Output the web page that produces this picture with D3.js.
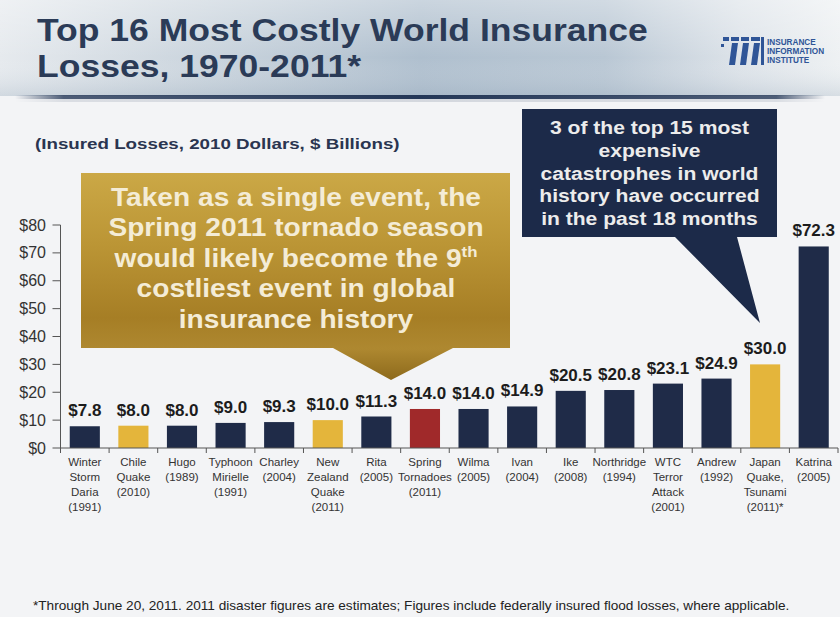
<!DOCTYPE html>
<html><head><meta charset="utf-8">
<script src="https://cdn.jsdelivr.net/npm/d3@7/dist/d3.min.js"></script>
<style>
body{margin:0;background:#f3f4f6;}
svg{display:block;font-family:"Liberation Sans",Arial,Helvetica,sans-serif;}
</style>
</head><body>
<svg id="c" width="840" height="617"></svg>
<script>
// ---------- data ----------
const categories = [
  ["Winter","Storm","Daria","(1991)"],
  ["Chile","Quake","(2010)"],
  ["Hugo","(1989)"],
  ["Typhoon","Mirielle","(1991)"],
  ["Charley","(2004)"],
  ["New","Zealand","Quake","(2011)"],
  ["Rita","(2005)"],
  ["Spring","Tornadoes","(2011)"],
  ["Wilma","(2005)"],
  ["Ivan","(2004)"],
  ["Ike","(2008)"],
  ["Northridge","(1994)"],
  ["WTC","Terror","Attack","(2001)"],
  ["Andrew","(1992)"],
  ["Japan","Quake,","Tsunami","(2011)*"],
  ["Katrina","(2005)"]
];
const values = [7.8, 8.0, 8.0, 9.0, 9.3, 10.0, 11.3, 14.0, 14.0, 14.9, 20.5, 20.8, 23.1, 24.9, 30.0, 72.3];
const kinds = ["past","recent","past","past","past","recent","past","tornado","past","past","past","past","past","past","recent","past"];
const yTicks = [0, 10, 20, 30, 40, 50, 60, 70, 80];
const titleLines = ["Top 16 Most Costly World Insurance", "Losses, 1970-2011*"];
const subtitle = "(Insured Losses, 2010 Dollars, $ Billions)";
const goldLines = ["Taken as a single event, the", "Spring 2011 tornado season", "would likely become the 9|th", "costliest event in global", "insurance history"];
const navyLines = ["3 of the top 15 most", "expensive", "catastrophes in world", "history have occurred", "in the past 18 months"];
const logoLines = ["INSURANCE", "INFORMATION", "INSTITUTE"];
const footnote = "*Through June 20, 2011. 2011 disaster figures are estimates; Figures include federally insured flood losses, where applicable.";

const colorOf = {past:"#1f2b48", recent:"#e4b53b", tornado:"#a0292a"};

// ---------- setup ----------
const svg = d3.select("#c");
const defs = svg.append("defs");

function stretch(sel, ax, target, node){
  const w = node.getComputedTextLength();
  const s = target / w;
  sel.attr("transform", `translate(${ax},0) scale(${s},1) translate(${-ax},0)`);
}

// page background
svg.append("rect").attr("width",840).attr("height",617).attr("fill","#f3f4f6");

// header gradient
const hg = defs.append("linearGradient").attr("id","hg").attr("x1","0").attr("x2","1").attr("y1","0").attr("y2","0");
[["0","#e6eaee"],["0.2","#cfd8e0"],["0.5","#afbfce"],["0.72","#b9c7d4"],["0.88","#dde3e9"],["1","#eef1f3"]]
  .forEach(([o,c])=>hg.append("stop").attr("offset",o).attr("stop-color",c));
svg.append("rect").attr("x",0).attr("y",0).attr("width",840).attr("height",96).attr("fill","url(#hg)");
const hv = defs.append("linearGradient").attr("id","hv").attr("x1","0").attr("x2","0").attr("y1","0").attr("y2","1");
hv.append("stop").attr("offset","0").attr("stop-color","#ffffff").attr("stop-opacity",0.35);
hv.append("stop").attr("offset","0.6").attr("stop-color","#ffffff").attr("stop-opacity",0);
hv.append("stop").attr("offset","1").attr("stop-color","#8fa2b5").attr("stop-opacity",0.25);
svg.append("rect").attr("x",0).attr("y",0).attr("width",840).attr("height",96).attr("fill","url(#hv)");

// dark rule under header
const lg = defs.append("linearGradient").attr("id","lg").attr("x1","0").attr("x2","1");
[["0",0],["0.06",0.8],["0.5",1],["0.94",0.8],["1",0]].forEach(([o,a])=>lg.append("stop").attr("offset",o).attr("stop-color","#243757").attr("stop-opacity",a));
svg.append("rect").attr("x",15).attr("y",95).attr("width",810).attr("height",4).attr("fill","url(#lg)");
svg.append("rect").attr("x",15).attr("y",99).attr("width",810).attr("height",3).attr("fill","url(#lg)").attr("opacity",0.15);

// title
const tcol = "#2b3b57";
titleLines.forEach((t,i)=>{
  const el = svg.append("text").attr("x",37).attr("y",[41,77][i]).attr("font-size",31).attr("font-weight","bold").attr("fill",tcol).text(t);
  if(i===0){ window._tw = el.node(); }
  el.attr("class","title");
});
{
  const n = window._tw; const s = 611 / n.getComputedTextLength();
  svg.selectAll("text.title").attr("transform",`translate(37,0) scale(${s},1) translate(-37,0)`);
}

// logo
const logo = svg.append("g").attr("fill","#2f5597");
// top bar dashes
[[723,6],[731,8],[741,8],[751,9]].forEach(([x,w])=>logo.append("rect").attr("x",x).attr("y",37).attr("width",w).attr("height",4));
// stems
[[729],[740],[751]].forEach(([x])=>logo.append("path").attr("d",`M${x+3},43 H${x+9} L${x+6},65 H${x} Z`));
logo.append("rect").attr("x",721).attr("y",44).attr("width",3).attr("height",3);
logo.append("rect").attr("x",761).attr("y",37).attr("width",3).attr("height",28);
logoLines.forEach((t,i)=>{
  logo.append("text").attr("x",767).attr("y",45+i*9).attr("font-size",8.2).attr("font-weight","bold").text(t);
});

// subtitle
{
  const el = svg.append("text").attr("x",35).attr("y",149).attr("font-size",15).attr("font-weight","bold").attr("fill","#2a3550").text(subtitle);
  stretch(el,35,365,el.node());
}

// ---------- scales ----------
const x = d3.scaleBand().domain(d3.range(values.length)).range([60.5, 838]).paddingInner(0.38).paddingOuter(0.19);
const y = d3.scaleLinear().domain([0, 80]).range([448, 225]);

// callouts (drawn behind the bars)
const gg = defs.append("linearGradient").attr("id","gg").attr("gradientUnits","userSpaceOnUse").attr("x1",0).attr("x2",0).attr("y1",173).attr("y2",380);
[["0","#cba846"],["0.35","#bb9535"],["0.7","#a67e25"],["0.85","#ae8830"],["1","#8d6a1c"]].forEach(([o,c])=>gg.append("stop").attr("offset",o).attr("stop-color",c));
svg.append("path").attr("d","M81,173 H510 V348 H453 L391,380 L333,348 H81 Z").attr("fill","url(#gg)");
{
  const g = svg.append("g").attr("fill","#f4ecd6").attr("font-size",25).attr("font-weight","bold").attr("text-anchor","middle");
  let first = null;
  goldLines.forEach((t,i)=>{
    const parts = t.split("|");
    const el = g.append("text").attr("x",296).attr("y",206+i*30.5);
    el.append("tspan").text(parts[0]);
    if(parts[1]) el.append("tspan").attr("font-size",15).attr("dy",-10).text(parts[1]);
    if(i===0) first = el;
  });
  stretch(g,296,370,first.node());
}

svg.append("path").attr("d","M522,109 H777 V237 H737 L760,323 L675,237 H522 Z").attr("fill","#1c2a49");
{
  const g = svg.append("g").attr("fill","#ececec").attr("font-size",19).attr("font-weight","bold").attr("text-anchor","middle");
  let ref = null;
  navyLines.forEach((t,i)=>{
    const el = g.append("text").attr("x",649.5).attr("y",134+i*22.8).text(t);
    if(i===2) ref = el;
  });
  stretch(g,649.5,218,ref.node());
}

// ---------- axes ----------
const axisCol = "#555";
svg.append("line").attr("x1",x.range()[0]).attr("x2",x.range()[0]).attr("y1",y(80)).attr("y2",y(0)).attr("stroke",axisCol).attr("stroke-width",1);
const yt = svg.append("g");
yTicks.forEach(v=>{
  yt.append("line").attr("x1",x.range()[0]-8).attr("x2",x.range()[0]).attr("y1",y(v)).attr("y2",y(v)).attr("stroke",axisCol);
  yt.append("text").attr("x",46).attr("y",y(v)+5.5).attr("text-anchor","end").attr("font-size",16).attr("fill","#333").text("$"+v);
});

// bars
svg.append("g").selectAll("rect").data(values).join("rect")
  .attr("x",(d,i)=>x(i)).attr("width",x.bandwidth())
  .attr("y",d=>y(d)).attr("height",d=>y(0)-y(d))
  .attr("fill",(d,i)=>colorOf[kinds[i]]);

// x axis line and ticks
svg.append("line").attr("x1",x.range()[0]).attr("x2",x.range()[1]).attr("y1",y(0)).attr("y2",y(0)).attr("stroke",axisCol);
svg.append("g").selectAll("line").data(d3.range(values.length+1)).join("line")
  .attr("x1",i=>x.range()[0]+i*x.step()).attr("x2",i=>x.range()[0]+i*x.step())
  .attr("y1",y(0)).attr("y2",y(0)+5).attr("stroke",axisCol);

// value labels
svg.append("g").selectAll("text").data(values).join("text")
  .attr("x",(d,i)=>x(i)+x.bandwidth()/2).attr("y",d=>y(d)-10)
  .attr("text-anchor","middle").attr("font-size",17).attr("font-weight","bold").attr("fill","#1c1c1c")
  .text(d=>"$"+d.toFixed(1));

// category labels
const cl = svg.append("g").attr("font-size",11.5).attr("fill","#333").attr("text-anchor","middle");
categories.forEach((lines,i)=>{
  const t = cl.append("text").attr("x",x(i)+x.bandwidth()/2).attr("y",466);
  lines.forEach((ln,j)=>t.append("tspan").attr("x",x(i)+x.bandwidth()/2).attr("dy",j===0?0:15).text(ln));
});

// footnote
{
  const el = svg.append("text").attr("x",33).attr("y",610).attr("font-size",12).attr("fill","#222").text(footnote);
  stretch(el,33,757,el.node());
}
</script>
</body></html>
